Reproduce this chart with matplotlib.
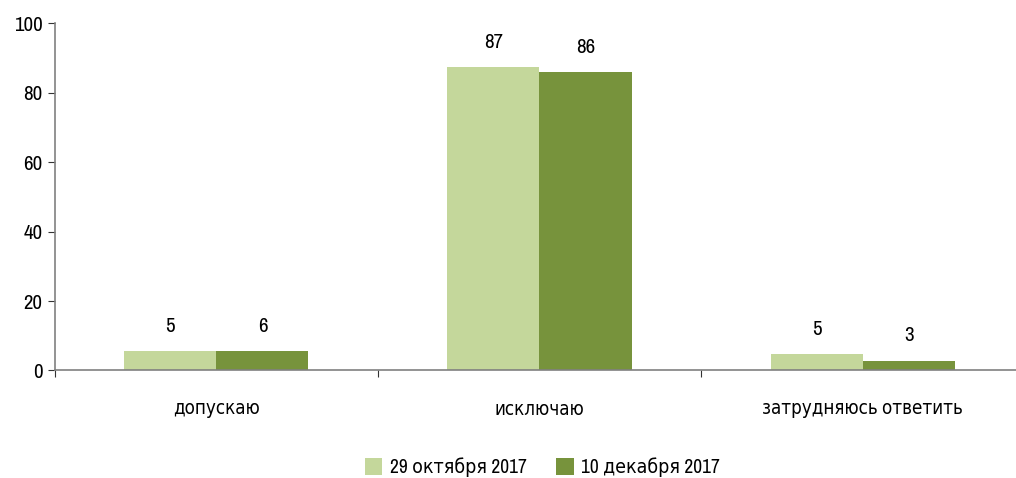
import matplotlib.pyplot as plt
import numpy as np
from matplotlib import font_manager

categories = ["допускаю", "исключаю", "затрудняюсь ответить"]
series_names = ["29 октября 2017", "10 декабря 2017"]
oct_vals = [5.6, 87.5, 4.8]
dec_vals = [5.6, 86.0, 2.8]
oct_labels = ["5", "87", "5"]
dec_labels = ["6", "86", "3"]

# condensed font if there is one, DejaVu otherwise
names = sorted({f.name for f in font_manager.fontManager.ttflist})
narrow = [n for n in names if "Narrow" in n or "Condensed" in n]
plt.rcParams['font.family'] = narrow[:1] + ['DejaVu Sans']
plt.rcParams['font.stretch'] = 'condensed'

fig = plt.figure(figsize=(10.16, 4.78), dpi=100)
ax = fig.add_axes([0.054, 0.225, 0.954, 0.726])

x = np.arange(len(categories))
w = 0.285
b1 = ax.bar(x - w/2, oct_vals, w, color="#c4d79b", label=series_names[0])
b2 = ax.bar(x + w/2, dec_vals, w, color="#77933c", label=series_names[1])

for bars, labs in [(b1, oct_labels), (b2, dec_labels)]:
    for r, t in zip(bars, labs):
        ax.annotate(t, (r.get_x() + r.get_width()/2, r.get_height()),
                    xytext=(0, 11), textcoords="offset points",
                    ha="center", va="bottom", fontsize=15)

ax.set_xlim(-0.5, 2.5)
ax.set_ylim(0, 100)
ax.set_yticks([0, 20, 40, 60, 80, 100])
ax.tick_params(axis="y", labelsize=15, length=5, color="#333333", pad=4)

ax.set_xticks([-0.5, 0.5, 1.5, 2.5])
ax.set_xticklabels([])
ax.set_xticks(x, minor=True)
ax.set_xticklabels(categories, minor=True)
ax.tick_params(axis="x", which="major", length=5, color="#333333")
ax.tick_params(axis="x", which="minor", length=0, labelsize=13.5, pad=23)

for s in ["top", "right"]:
    ax.spines[s].set_visible(False)
ax.spines["left"].set_color("#808080")
ax.spines["bottom"].set_color("#808080")
ax.spines["left"].set_linewidth(1.2)
ax.spines["bottom"].set_linewidth(1.2)

fig.legend(loc="lower center", bbox_to_anchor=(0.534, -0.035), ncol=2, frameon=False,
           fontsize=14, handlelength=0.9, handleheight=0.9, handletextpad=0.4,
           columnspacing=1.5)

plt.savefig("out.png", dpi=100)
